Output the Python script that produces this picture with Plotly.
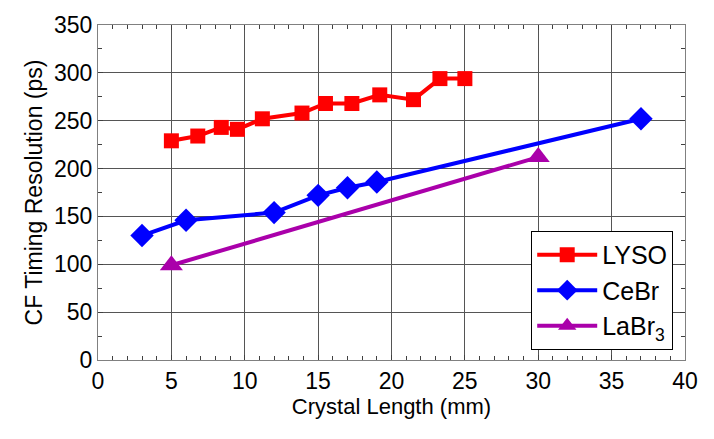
import plotly.graph_objects as go

lyso_x = [5, 6.8, 8.4, 9.5, 11.2, 13.9, 15.5, 17.3, 19.2, 21.5, 23.3, 25]
lyso_y = [229, 234, 243, 241, 252, 258, 268, 268, 277, 272, 294, 294]

cebr_x = [3, 6, 12, 15, 17, 19, 37]
cebr_y = [130, 146, 154, 172, 180, 186, 252]

labr_x = [5, 30]
labr_y = [99, 212]

x_ticks = [0, 5, 10, 15, 20, 25, 30, 35, 40]
y_ticks = [0, 50, 100, 150, 200, 250, 300, 350]

FONT = "Liberation Sans, Arial, sans-serif"

fig = go.Figure()
fig.add_trace(go.Scatter(x=lyso_x, y=lyso_y, mode="lines+markers", name="LYSO",
                         line=dict(color="#ff0000", width=4),
                         marker=dict(symbol="square", size=15, color="#ff0000")))
fig.add_trace(go.Scatter(x=cebr_x, y=cebr_y, mode="lines+markers", name="CeBr",
                         line=dict(color="#0000ff", width=4),
                         marker=dict(symbol="diamond", size=18, color="#0000ff")))
fig.add_trace(go.Scatter(x=labr_x, y=labr_y, mode="lines+markers", name="LaBr<sub>3</sub>",
                         line=dict(color="#aa00aa", width=4),
                         marker=dict(symbol="triangle-up", size=20, color="#aa00aa")))

axis_common = dict(
    showline=True, linecolor="#808080", linewidth=1, mirror="ticks",
    ticks="inside", ticklen=5, tickcolor="#404040",
    showgrid=True, gridcolor="#555555", gridwidth=1,
    zeroline=False, automargin=False,
    tickfont=dict(family=FONT, size=23, color="black"),
)

fig.update_xaxes(range=[0, 40], tickvals=x_ticks,
                 title=dict(text="Crystal Length (mm)", font=dict(family=FONT, size=22, color="black"), standoff=4),
                 minor=dict(dtick=1, ticks="inside", ticklen=4, tickcolor="#404040", showgrid=False),
                 **axis_common)
fig.update_yaxes(range=[0, 350], tickvals=y_ticks,
                 title=dict(text="CF Timing Resolution (ps)", font=dict(family=FONT, size=23, color="black"), standoff=4),
                 minor=dict(dtick=25, ticks="inside", ticklen=4, tickcolor="#404040", showgrid=False),
                 **axis_common)

fig.update_layout(
    width=706, height=431,
    margin=dict(l=90, r=29, t=17, b=79),
    paper_bgcolor="white", plot_bgcolor="white",
    font=dict(family=FONT, size=22, color="black"),
    legend=dict(x=0.738, y=0.03, xanchor="left", yanchor="bottom",
                bgcolor="white", bordercolor="black", borderwidth=1,
                font=dict(family=FONT, size=25, color="black"),
                itemwidth=60),
    showlegend=True,
)

fig.write_html("out.html")
